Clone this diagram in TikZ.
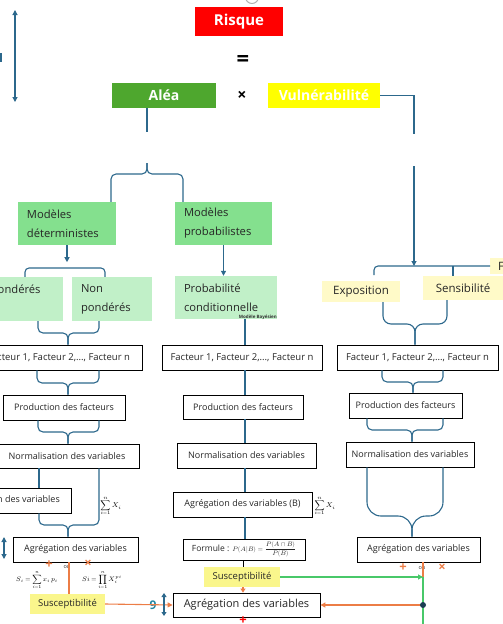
\documentclass[tikz,border=0pt]{standalone}
\usepackage{fontspec}
\usepackage{unicode-math}
\setmainfont{Open Sans}
\usetikzlibrary{arrows.meta}

\definecolor{linkblue}{RGB}{44,104,140}
\definecolor{riskred}{RGB}{255,0,0}
\definecolor{aleagreen}{RGB}{78,167,46}
\definecolor{vulnyellow}{RGB}{255,255,0}
\definecolor{modgreen}{RGB}{132,224,142}
\definecolor{lightgreen}{RGB}{193,240,200}
\definecolor{paleyellow}{RGB}{255,250,200}
\definecolor{susyellow}{RGB}{250,246,140}
\definecolor{orangeline}{RGB}{236,125,70}
\definecolor{greenline}{RGB}{72,200,105}

\begin{document}
\begin{tikzpicture}[
      x=1pt, y=-1pt,
      link/.style={draw=linkblue, line width=1.1pt},
      orangelink/.style={draw=orangeline, line width=1.1pt},
      greenlink/.style={draw=greenline, line width=1.1pt},
      brace/.style={link, rounded corners=5pt},
      tip/.style={-{Triangle[length=5pt,width=5pt]}},
      dtip/.style={{Triangle[length=5pt,width=5pt]}-{Triangle[length=5pt,width=5pt]}},
      titlebox/.style={inner sep=0pt, text=white, font=\bfseries\fontsize{14}{16}\selectfont},
      modbox/.style={fill=modgreen, inner xsep=9pt, inner ysep=0pt, align=left, text=black!85, font=\fontsize{11.2}{19}\selectfont},
      subbox/.style={modbox, fill=lightgreen},
      vulnbox/.style={fill=paleyellow, inner sep=0pt, text=black!85, font=\fontsize{11.5}{14}\selectfont},
      stepbox/.style={draw=black, line width=0.9pt, fill=white, inner sep=0pt, text=black!85, font=\fontsize{9}{11}\selectfont},
      susbox/.style={fill=susyellow, inner sep=0pt, text=black!85, font=\fontsize{9.5}{11}\selectfont},
      opsign/.style={inner sep=0pt, text=orangeline, font=\bfseries\fontsize{13}{13}\selectfont},
      oulabel/.style={inner sep=0pt, text=black!80, font=\fontsize{5.5}{6}\selectfont},
      formula/.style={inner sep=0pt, font=\fontsize{6.5}{7}\selectfont}
    ]
    \useasboundingbox (0,0) rectangle (503,624);
    \clip (0,0) rectangle (503,624);

    % top: Risque = Alea x Vulnerabilite
    \draw[gray!60, line width=1pt] (252,-3) circle (6.5);
    \node[titlebox, fill=riskred, minimum width=88, minimum height=29, font=\bfseries\fontsize{15}{17}\selectfont] (risque) at (239,21.5) {Risque};
    \node[inner sep=0pt, font=\bfseries\fontsize{22}{22}\selectfont] (egal) at (243,61) {=};
    \node[titlebox, fill=aleagreen, minimum width=104, minimum height=25] (alea) at (164,95.5) {Aléa};
    \node[inner sep=0pt, font=\bfseries\fontsize{16}{16}\selectfont] (fois) at (242,96) {×};
    \node[titlebox, fill=vulnyellow, minimum width=112, minimum height=25] (vuln) at (324,95.5) {Vulnérabilité};
    \draw[link, dtip] (15,10) -- (15,102);
    \draw[link] (1,53) -- (1,62);

    % models
    \node[modbox, text width=80, minimum height=43] (detm) at (67,223.5) {Modèles\\déterministes};
    \node[modbox, text width=79, minimum height=43] (proba) at (223.5,223.5) {Modèles\\probabilistes};
    \node[subbox, text width=63, minimum height=44] (pond) at (22.5,299) {Pondérés\\\mbox{}};
    \node[subbox, text width=62, minimum height=44] (nonpond) at (112,299) {Non\\pondérés};
    \node[subbox, text width=84, minimum height=43] (probc) at (226,297.5) {Probabilité\\conditionnelle};
    \node[anchor=east, inner sep=0pt, text=black!80, font=\bfseries\fontsize{4.5}{5}\selectfont] (bayes) at (277,317) {Modèle Bayésien};
    \node[vulnbox, minimum width=78, minimum height=21] (expo) at (361,291.5) {Exposition};
    \node[vulnbox, minimum width=80, minimum height=24] (sensi) at (463,288) {Sensibilité};
    \node[vulnbox, anchor=west, inner xsep=8pt, text width=24, minimum height=16, align=left] (fbox) at (490,266) {F};

    % factor boxes
    \node[stepbox, minimum width=167, minimum height=25, font=\fontsize{9.5}{11}\selectfont] (fac1) at (58.5,357.5) {Facteur 1, Facteur 2,..., Facteur n};
    \node[stepbox, minimum width=160, minimum height=25, font=\fontsize{9.5}{11}\selectfont] (fac2) at (242,357.5) {Facteur 1, Facteur 2,..., Facteur n};
    \node[stepbox, minimum width=161, minimum height=25, font=\fontsize{9.5}{11}\selectfont] (fac3) at (417.5,357.5) {Facteur 1, Facteur 2,..., Facteur n};
    \node[stepbox, minimum width=122, minimum height=25] (prod1) at (64,407.5) {Production des facteurs};
    \node[stepbox, minimum width=120, minimum height=24] (prod2) at (243,407) {Production des facteurs};
    \node[stepbox, minimum width=113, minimum height=25] (prod3) at (405.5,405.5) {Production des facteurs};
    \node[stepbox, minimum width=144, minimum height=24] (norm1) at (67,456) {Normalisation des variables};
    \node[stepbox, minimum width=139, minimum height=25] (norm2) at (246.5,455.5) {Normalisation des variables};
    \node[stepbox, minimum width=128, minimum height=25] (norm3) at (410,454.5) {Normalisation des variables};
    \node[stepbox, minimum width=125, minimum height=25] (agr1) at (8.5,500.5) {Agrégation des variables};
    \node[stepbox, minimum width=139, minimum height=25] (agr2) at (242.5,504.5) {Agrégation des variables (B)};
    \node[stepbox, minimum width=125, minimum height=25] (agr1b) at (75.5,549.5) {Agrégation des variables};
    \node[stepbox, minimum width=122, minimum height=21, font=\fontsize{8.5}{10}\selectfont] (formule) at (244,549.5) {Formule : {\fontsize{6.5}{7}\selectfont$P(A|B)=\dfrac{P(A\cap B)}{P(B)}$}};
    \node[stepbox, minimum width=123, minimum height=25] (agr3) at (418.5,549.5) {Agrégation des variables};
    \node[stepbox, minimum width=147, minimum height=24, font=\fontsize{11}{13}\selectfont] (final) at (246.5,605) {Agrégation des variables};

    \node[formula, font=\fontsize{7}{8}\selectfont] (somme1) at (111,506) {$\displaystyle\sum_{i=1}^{n} X_i$};
    \node[formula, font=\fontsize{7}{8}\selectfont] (somme2) at (325,506) {$\displaystyle\sum_{i=1}^{n} X_i$};
    \node[formula] (si1) at (37,580) {$S_i=\displaystyle\sum_{i=1}^{n} x_i\,p_i$};
    \node[formula] (si2) at (102,580) {$Si=\displaystyle\prod_{i=1}^{n} X_i^{\,pi}$};

    % susceptibility
    \node[susbox, minimum width=75, minimum height=20] (sus1) at (67.5,604) {Susceptibilité};
    \node[susbox, minimum width=76, minimum height=20] (sus2) at (242,577) {Susceptibilité};

    % operators
    \node[opsign] (plus1) at (49,564.5) {+};
    \node[oulabel] (ou1) at (67,567) {ou};
    \node[opsign] (fois1) at (88,564) {×};
    \node[opsign] (plus3) at (403,568) {+};
    \node[oulabel] (ou3) at (422,568) {ou};
    \node[opsign] (fois3) at (442,568) {×};
    \node[opsign, text=red] (plusr) at (243,621) {+};
    \node[inner sep=0pt, text=linkblue!80!cyan, font=\bfseries\fontsize{12}{12}\selectfont] (neuf) at (153,605) {9};

    % Alea branch
    \draw[link] ([xshift=-17pt]alea.south) -- ++(0,24);
    \draw[brace] (detm.north -| 111,0) |- (147,174) -- (147,163);
    \draw[brace] (proba.north -| 183,0) |- (147,174) -- (147,163);
    \draw[link, tip] (detm.south) -- ++(0,17);
    \draw[link, rounded corners=4pt] (pond.north -| 25,0) |- (67,268) -| (nonpond.north -| 105,0);
    \draw[link, tip] (proba.south) -- (proba.south |- probc.north);

    % left column
    \draw[brace] (pond.south -| 38,0) |- (68,333) -- (fac1.north -| 68,0);
    \draw[brace] (nonpond.south -| 99,0) |- (68,333) -- (fac1.north -| 68,0);
    \draw[brace] (fac1.south -| 37,0) |- (68,383) -- (prod1.north -| 68,0);
    \draw[brace] (fac1.south -| 99,0) |- (68,383) -- (prod1.north -| 68,0);
    \draw[brace] (prod1.south -| 38,0) |- (68,432) -- (norm1.north -| 68,0);
    \draw[brace] (prod1.south -| 99,0) |- (68,432) -- (norm1.north -| 68,0);
    \draw[link] (norm1.south -| 39,0) -- (agr1.north -| 39,0);
    \draw[brace] (agr1.south -| 39,0) |- (68,525) -- (agr1b.north -| 68,0);
    \draw[brace] (norm1.south -| 99,0) |- (68,525) -- (agr1b.north -| 68,0);
    \draw[link, dtip] (4,537) -- (4,559);

    % middle column
    \foreach \from/\to in {probc/fac2, fac2/prod2, prod2/norm2, norm2/agr2, agr2/formule}
        \draw[link] (\from.south -| 245,0) -- (\to.north -| 245,0);
    \draw[black, line width=0.8pt] (formule.south -| 243,0) -- (sus2.north -| 243,0);
    \draw[orangelink, -{Triangle[length=4pt,width=5pt]}] (sus2.south -| 243,0) -- (final.north -| 243,0);

    % Vulnerabilite branch
    \draw[link] (vuln.east) -| (414,134);
    \draw[link, tip] (414,166) -- (414,266);
    \draw[link, rounded corners=4pt] (374,275) |- (fbox.west);
    \draw[link] (453,266) -- (sensi.north -| 453,0);
    \draw[link, rounded corners=8pt] (expo.south -| 383,0) |- (415,324) -- (fac3.north -| 415,0);
    \draw[link, rounded corners=8pt] (sensi.south -| 447,0) |- (415,324) -- (fac3.north -| 415,0);
    \draw[brace] (fac3.south -| 382,0) |- (413,382) -- (prod3.north -| 413,0);
    \draw[brace] (fac3.south -| 443,0) |- (413,382) -- (prod3.north -| 413,0);
    \draw[brace] (prod3.south -| 367,0) |- (412,430) -- (norm3.north -| 412,0);
    \draw[brace] (prod3.south -| 443,0) |- (412,430) -- (norm3.north -| 412,0);
    \draw[link, rounded corners=14pt] (norm3.south -| 367,0) |- (412,516) -- (agr3.north -| 412,0);
    \draw[link, rounded corners=14pt] (norm3.south -| 443,0) |- (412,516) -- (agr3.north -| 412,0);

    % final aggregation
    \coordinate (jonc) at (423,605);
    \coordinate (gcoin) at (423,577);
    \coordinate (gbas) at (423,630);
    \draw[orangelink] (agr1b.south -| 69,0) -- (sus1.north -| 69,0);
    \draw[orangelink, tip] (sus1.east) -- (final.west);
    \draw[link, {Triangle[length=4pt,width=5pt]}-{Triangle[length=4pt,width=5pt]}] (164,593) -- (164,616);
    \draw[orangelink] (agr3.south -| jonc) -- (jonc);
    \draw[greenlink, tip] (sus2.east) -- (gcoin);
    \draw[greenlink] (gcoin) -- (gbas);
    \draw[orangelink, tip] (jonc) -- (final.east);
    \fill[linkblue!60!black] (jonc) circle (3pt);

\end{tikzpicture}
\end{document}
